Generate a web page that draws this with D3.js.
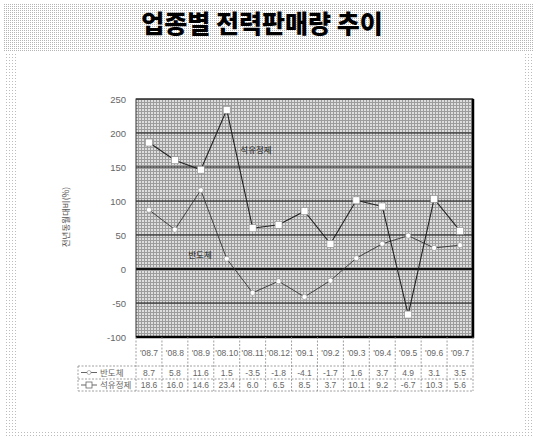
<!DOCTYPE html>
<html><head><meta charset="utf-8">
<script src="https://cdn.jsdelivr.net/npm/d3@7"></script>
<style>body{margin:0;background:#fff}svg{display:block}</style>
</head><body>
<svg id="c" width="537" height="442"></svg>
<script>
const title = "업종별 전력판매량 추이";
const categories = ["'08.7","'08.8","'08.9","'08.10","'08.11","'08.12","'09.1","'09.2","'09.3","'09.4","'09.5","'09.6","'09.7"];
const semiconductor = [8.7,5.8,11.6,1.5,-3.5,-1.8,-4.1,-1.7,1.6,3.7,4.9,3.1,3.5];
const petroleum = [18.6,16.0,14.6,23.4,6.0,6.5,8.5,3.7,10.1,9.2,-6.7,10.3,5.6];
const seriesNames = ["반도체","석유정제"];
const yTicks = [-10,-5,0,5,10,15,20,25];
const yTickLabels = ["-100","-50","0","50","100","150","200","250"];
const yTitle = "전년동월대비(%)";

const svg = d3.select("#c");
const defs = svg.append("defs");
const p1 = defs.append("pattern").attr("id","dots").attr("width",3).attr("height",3).attr("patternUnits","userSpaceOnUse");
p1.append("rect").attr("width",3).attr("height",3).attr("fill","#fff");
p1.append("rect").attr("width",1).attr("height",1).attr("fill","#bcbcbc");
const p2 = defs.append("pattern").attr("id","dots2").attr("width",2).attr("height",2).attr("patternUnits","userSpaceOnUse");
p2.append("rect").attr("width",2).attr("height",2).attr("fill","#fff");
p2.append("rect").attr("width",1).attr("height",1).attr("fill","#b4b4b4");
const p3 = defs.append("pattern").attr("id","half").attr("width",3).attr("height",3).attr("patternUnits","userSpaceOnUse");
p3.append("rect").attr("width",3).attr("height",3).attr("fill","#dedede");
p3.append("rect").attr("width",3).attr("height",1).attr("fill","#9c9c9c");
p3.append("rect").attr("width",1).attr("height",3).attr("fill","#9c9c9c");

svg.append("rect").attr("x",4).attr("y",4).attr("width",529).attr("height",434).attr("fill","url(#dots)");
svg.append("rect").attr("x",4).attr("y",4).attr("width",529).attr("height",48).attr("fill","url(#dots2)");
svg.append("rect").attr("x",17).attr("y",54).attr("width",508).attr("height",377).attr("fill","#fff");

svg.append("text").attr("x",262).attr("y",33).attr("text-anchor","middle")
  .attr("font-family","Noto Sans CJK KR").attr("font-weight",900).attr("font-size",25)
  .attr("fill","#000").text(title);

const L=136, R=473, T=99, B=337;
const x = d3.scaleBand().domain(categories).range([L,R]);
const y = d3.scaleLinear().domain([-10,25]).range([B,T]);

svg.append("rect").attr("x",L).attr("y",T).attr("width",R-L).attr("height",B-T).attr("fill","url(#half)");

svg.append("g").selectAll("line").data(yTicks).join("line")
  .attr("x1",L).attr("x2",R).attr("y1",d=>y(d)).attr("y2",d=>y(d))
  .attr("stroke","#111").attr("stroke-width",d=>d===0?2:1.2);

svg.append("rect").attr("x",L).attr("y",T).attr("width",R-L).attr("height",B-T)
  .attr("fill","none").attr("stroke","#333").attr("stroke-width",1);
svg.append("line").attr("x1",R).attr("x2",R).attr("y1",T).attr("y2",B+1).attr("stroke","#000").attr("stroke-width",2.5);
svg.append("line").attr("x1",L).attr("x2",R+1).attr("y1",B).attr("y2",B).attr("stroke","#000").attr("stroke-width",2.5);

const yAxis = d3.axisLeft(y).tickValues(yTicks).tickSize(0).tickPadding(10)
  .tickFormat((d,i)=>yTickLabels[i]);
const ya = svg.append("g").attr("transform",`translate(${L},0)`).call(yAxis);
ya.select(".domain").remove();
ya.selectAll("text").attr("font-family","Liberation Sans").attr("font-size",9.5).attr("fill","#666");

svg.append("text").attr("transform","translate(69,217) rotate(-90)").attr("text-anchor","middle")
  .attr("font-family","Noto Sans CJK KR").attr("font-size",8.5).attr("fill","#555").text(yTitle);

const cx = d=>x(d)+x.bandwidth()/2;
const line = d3.line().x((d,i)=>cx(categories[i])).y(d=>y(d));
svg.append("path").datum(semiconductor).attr("d",line).attr("fill","none").attr("stroke","#333").attr("stroke-width",0.9);
svg.append("path").datum(petroleum).attr("d",line).attr("fill","none").attr("stroke","#222").attr("stroke-width",1.1);
svg.selectAll("circle.s").data(semiconductor).join("circle").attr("class","s")
  .attr("cx",(d,i)=>cx(categories[i])).attr("cy",d=>y(d)).attr("r",2.6)
  .attr("fill","#fff").attr("stroke","#888").attr("stroke-width",0.6);
svg.selectAll("rect.p").data(petroleum).join("rect").attr("class","p")
  .attr("x",(d,i)=>cx(categories[i])-3.5).attr("y",d=>y(d)-3.5).attr("width",7).attr("height",7)
  .attr("fill","#fff").attr("stroke","#888").attr("stroke-width",0.6);

svg.append("text").attr("x",256).attr("y",153).attr("text-anchor","middle")
  .attr("font-family","Noto Sans CJK KR").attr("font-size",8.5).attr("fill","#222").text(seriesNames[1]);
svg.append("text").attr("x",200).attr("y",258).attr("text-anchor","middle")
  .attr("font-family","Noto Sans CJK KR").attr("font-size",8.5).attr("fill","#222").text(seriesNames[0]);

const hT=B, hB=366, r1B=379, r2B=391, legL=78;
const tbl = svg.append("g").attr("stroke","#888").attr("stroke-width",0.8).attr("stroke-dasharray","2,1.5");
tbl.selectAll("line.v").data(categories.concat(["end"])).join("line").attr("class","v")
  .attr("x1",(d,i)=>i<categories.length?x(d):R).attr("x2",(d,i)=>i<categories.length?x(d):R)
  .attr("y1",hT).attr("y2",r2B);
tbl.append("line").attr("x1",legL).attr("x2",legL).attr("y1",hB).attr("y2",r2B);
[hB,r1B,r2B].forEach(v=>tbl.append("line").attr("x1",legL).attr("x2",R).attr("y1",v).attr("y2",v));

const tf = "Liberation Sans";
svg.selectAll("text.h").data(categories).join("text").attr("class","h")
  .attr("x",d=>cx(d)).attr("y",(hT+hB)/2+4).attr("text-anchor","middle")
  .attr("font-family",tf).attr("font-size",8.5).attr("fill","#666").text(d=>d);
svg.selectAll("text.r1").data(semiconductor).join("text").attr("class","r1")
  .attr("x",(d,i)=>cx(categories[i])).attr("y",r1B-3.5).attr("text-anchor","middle")
  .attr("font-family",tf).attr("font-size",8.5).attr("fill","#666").text(d=>d.toFixed(1));
svg.selectAll("text.r2").data(petroleum).join("text").attr("class","r2")
  .attr("x",(d,i)=>cx(categories[i])).attr("y",r2B-3.5).attr("text-anchor","middle")
  .attr("font-family",tf).attr("font-size",8.5).attr("fill","#666").text(d=>d.toFixed(1));

const ky1=(hB+r1B)/2, ky2=(r1B+r2B)/2;
svg.append("line").attr("x1",81).attr("x2",97).attr("y1",ky1).attr("y2",ky1).attr("stroke","#666");
svg.append("circle").attr("cx",89).attr("cy",ky1).attr("r",2).attr("fill","#fff").attr("stroke","#888").attr("stroke-width",0.6);
svg.append("line").attr("x1",81).attr("x2",97).attr("y1",ky2).attr("y2",ky2).attr("stroke","#666");
svg.append("rect").attr("x",86).attr("y",ky2-3).attr("width",6).attr("height",6).attr("fill","#fff").attr("stroke","#666").attr("stroke-width",0.8);
svg.append("text").attr("x",100).attr("y",r1B-3.5).attr("font-family","Noto Sans CJK KR").attr("font-size",8.5).attr("fill","#666").text(seriesNames[0]);
svg.append("text").attr("x",100).attr("y",r2B-3.5).attr("font-family","Noto Sans CJK KR").attr("font-size",8.5).attr("fill","#666").text(seriesNames[1]);
</script>
</body></html>
